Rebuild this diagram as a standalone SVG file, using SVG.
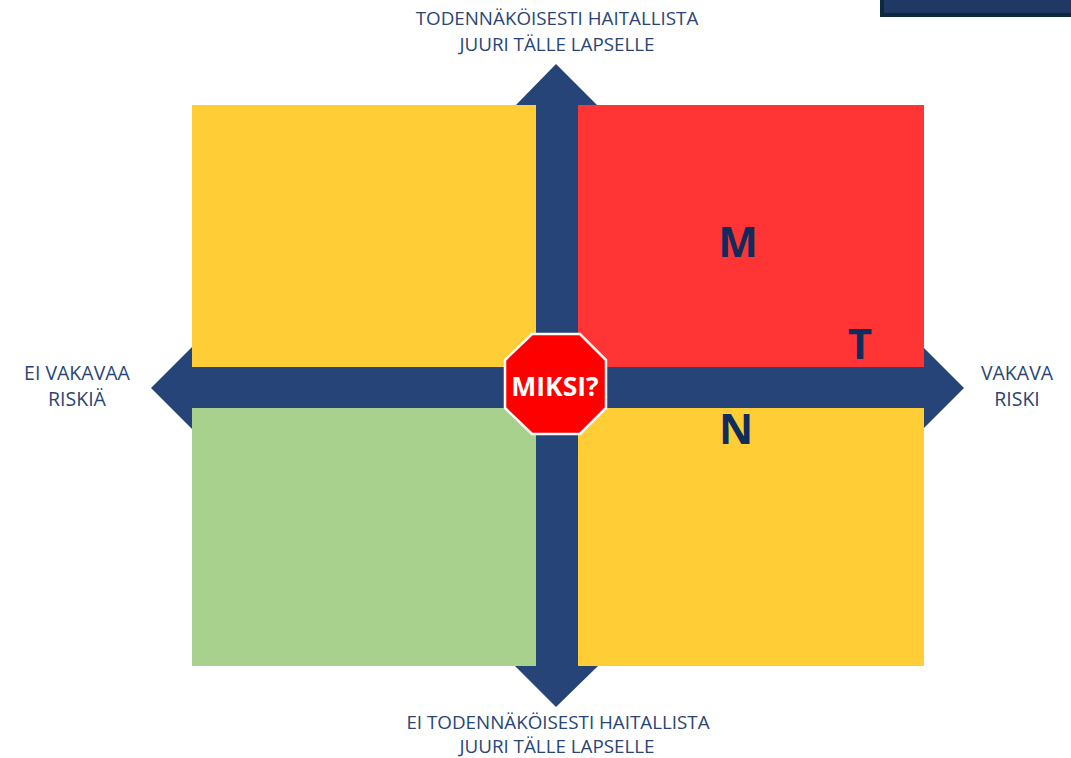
<svg xmlns="http://www.w3.org/2000/svg" width="1071" height="758" viewBox="0 0 1071 758">
<style>
text{font-family:"Open Sans","Noto Sans","Liberation Sans",sans-serif}
.lab{font-size:18.8px;fill:#2a4574;text-anchor:middle}
.side{font-size:19.500px}
.big{font-size:42px;font-weight:700;fill:#0f2c5c;text-anchor:middle}
.arrow{fill:#264478}
</style>
<rect width="1071" height="758" fill="#fff"/>
<g id="corner-box"><rect x="882" y="-6" width="195" height="21" fill="#1f3864" stroke="#0b2a3c" stroke-width="4"/></g>
<g id="connectors">
<polygon class="arrow" points="556,64 598,106 578,106 578,666 598,666 556,707 515,666 536,666 536,106 515,106"/>
<polygon class="arrow" points="151,388 192,347 192,367 923,367 923,347 964,388 923,429 923,408 192,408 192,429"/>
</g>
<g id="q-top-left"><rect x="192" y="105" width="344" height="262" fill="#ffcd36"/></g>
<g id="q-top-right"><rect x="578" y="105" width="346" height="262" fill="#ff3535"/><text class="big" x="738" y="257">M</text><text class="big" x="860" y="359">T</text></g>
<g id="q-bottom-left"><rect x="192" y="408" width="344" height="258" fill="#a9d18e"/></g>
<g id="q-bottom-right"><rect x="578" y="408" width="346" height="258" fill="#ffcd36"/><text class="big" x="736" y="444">N</text></g>
<g id="stop"><polygon points="532,334 580,334 606,360 606,408 580,434 532,434 505,408 505,360" fill="#ff0000" stroke="#fff" stroke-width="2.500"/><text x="555" y="396" font-size="26.500" font-weight="700" fill="#fff" text-anchor="middle">MIKSI?</text></g>
<g id="label-top"><text class="lab" x="557" y="25">TODENNÄKÖISESTI HAITALLISTA</text><text class="lab" x="557" y="51">JUURI TÄLLE LAPSELLE</text></g>
<g id="label-bottom"><text class="lab" x="558" y="729">EI TODENNÄKÖISESTI HAITALLISTA</text><text class="lab" x="557" y="753">JUURI TÄLLE LAPSELLE</text></g>
<g id="label-left"><text class="lab side" x="77" y="380">EI VAKAVAA</text><text class="lab side" x="77" y="406">RISKIÄ</text></g>
<g id="label-right"><text class="lab side" x="1017" y="380">VAKAVA</text><text class="lab side" x="1017" y="406">RISKI</text></g>
</svg>
